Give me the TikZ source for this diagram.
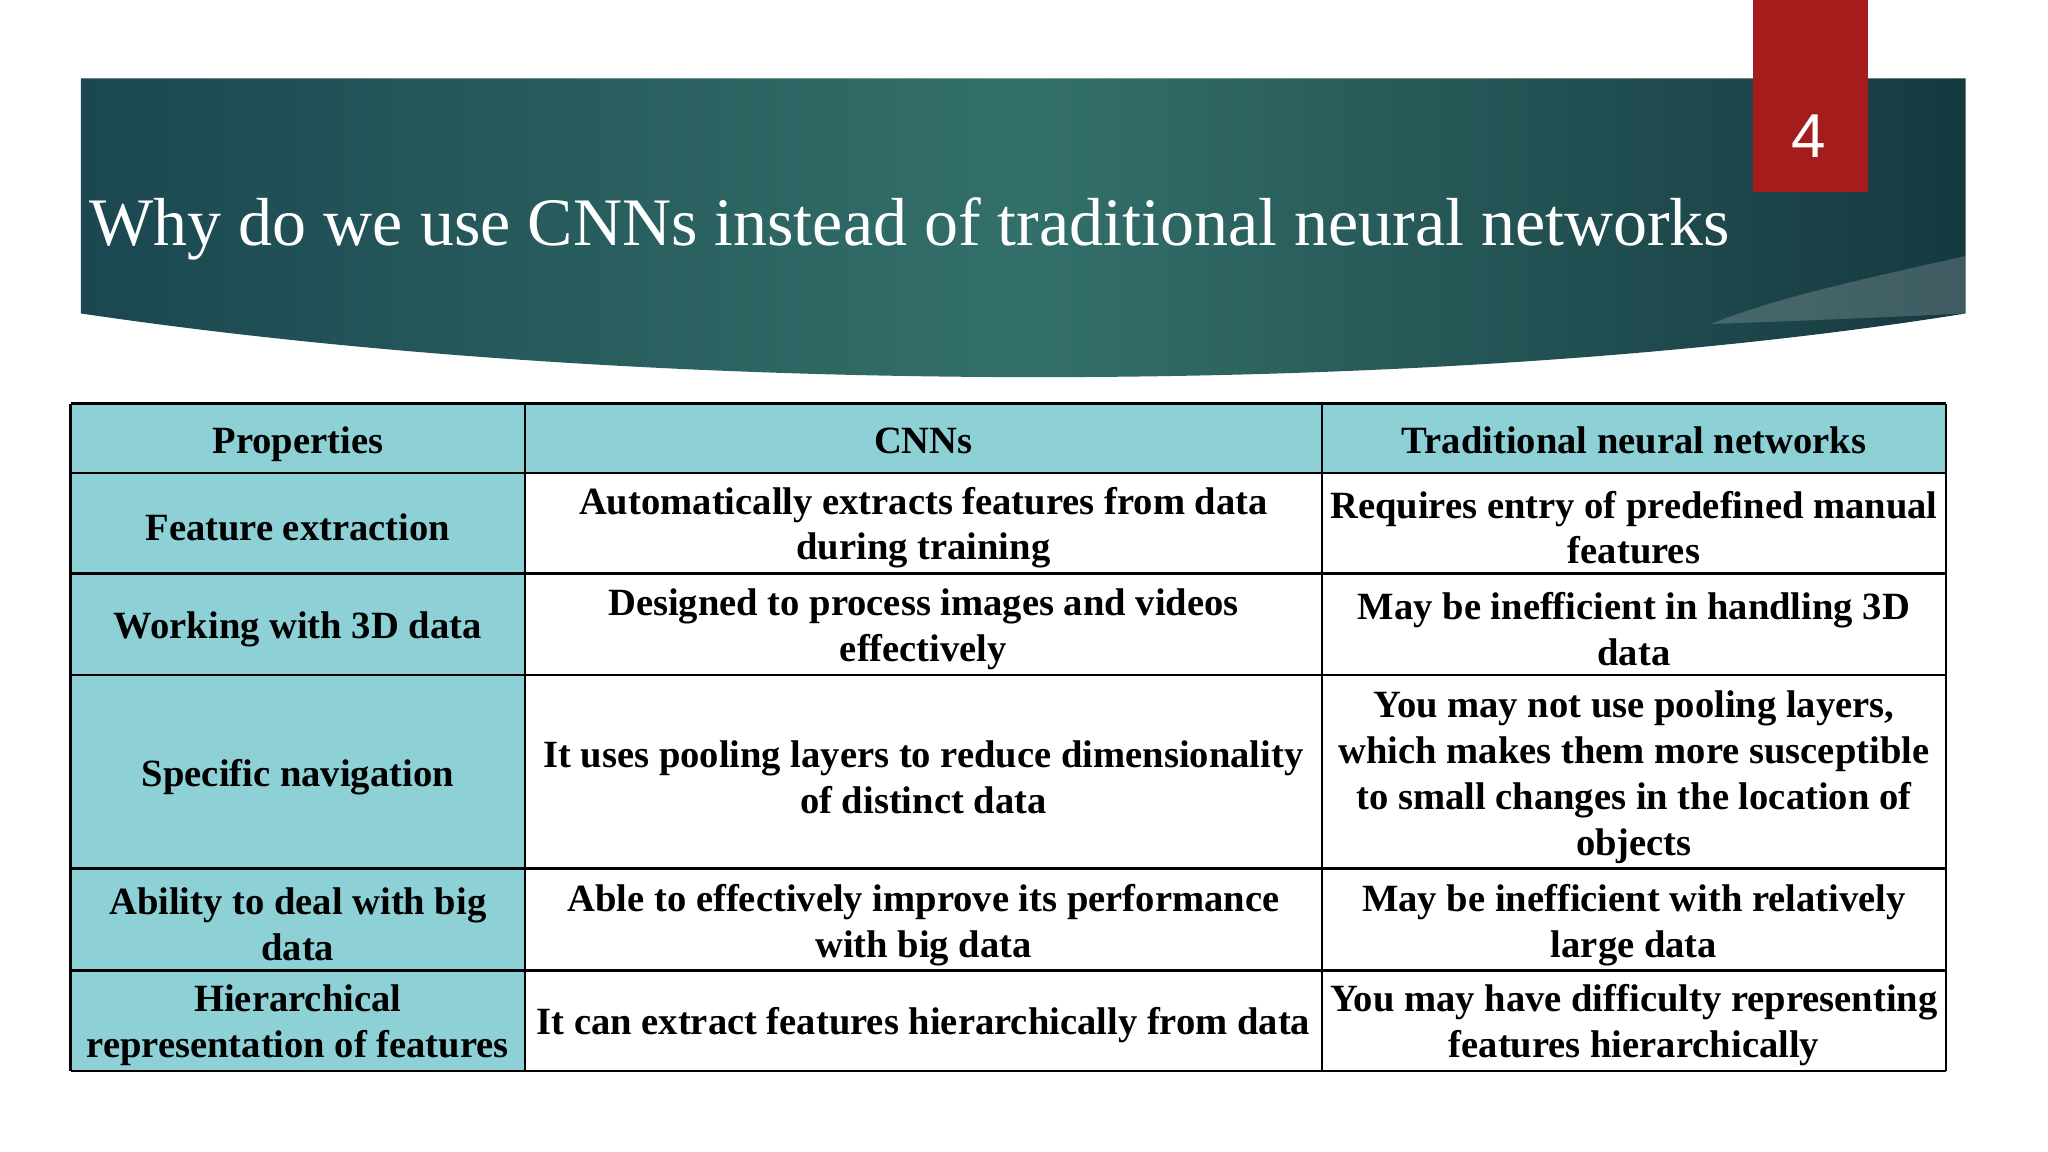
\documentclass[tikz,border=0pt]{standalone}
\usepackage{fontspec}
\setmainfont{Liberation Serif}
\newfontfamily\sansf{Liberation Sans}
\definecolor{hdr}{HTML}{8DD0D5}
\definecolor{bdark}{HTML}{1B4750}
\definecolor{bmid}{HTML}{33706A}
\definecolor{redbox}{HTML}{A51C1C}
\tikzset{
  celltext/.style={align=center,font=\bfseries\fontsize{8.4}{10}\selectfont,inner sep=0pt},
  gridline/.style={draw=black,line width=0.5pt}
}
\begin{document}
\begin{tikzpicture}[x=0.01cm,y=-0.01cm]
\useasboundingbox[fill=white] (0,0) rectangle (1568,882);
% banner
\shade[left color=bdark,right color=bdark!80!black,middle color=bmid]
 (62,60) -- (1505,60) -- (1505,240) .. controls (1100,305) and (500,305) .. (62,240) -- cycle;
\fill[white,opacity=0.18] (1505,196) .. controls (1420,215) and (1360,228) .. (1310,248) .. controls (1400,245) and (1460,242) .. (1505,240) -- cycle;
\fill[redbox] (1342,0) rectangle (1430,147);
\node[text=white,font=\sansf\fontsize{13.5}{15}\selectfont] (num) at (1385,104) {4};
\node[anchor=base west,text=white,font=\fontsize{14.8}{16}\selectfont,inner sep=0pt] (title) at (68,188) {Why do we use CNNs instead of traditional neural networks};
% table backgrounds
\fill[hdr] (54,309) rectangle (1490,362);
\fill[hdr] (54,362) rectangle (402,820);
\foreach \y in {309,362,439,517,665,743,820} \draw[gridline] (54,\y) -- (1490,\y);
\foreach \x in {54,402,1012,1490} \draw[gridline] (\x,309) -- (\x,820);
% header
\node[celltext,anchor=base] (h1) at (228,347) {Properties};
\node[celltext,anchor=base] (h2) at (707,347) {CNNs};
\node[celltext,anchor=base] (h3) at (1251,347) {Traditional neural networks};
% rows
\node[celltext] (r1a) at (228,404) {Feature extraction};
\node[celltext] (r1b) at (707,404) {Automatically extracts features from data\\during training};
\node[celltext] (r1c) at (1251,404) {Requires entry of predefined manual\\features};
\node[celltext] (r2a) at (228,482) {Working with 3D data};
\node[celltext] (r2b) at (707,482) {Designed to process images and videos\\effectively};
\node[celltext] (r2c) at (1251,482) {May be inefficient in handling 3D\\data};
\node[celltext] (r3a) at (228,595) {Specific navigation};
\node[celltext] (r3b) at (707,595) {It uses pooling layers to reduce dimensionality\\of distinct data};
\node[celltext] (r3c) at (1251,595) {You may not use pooling layers,\\which makes them more susceptible\\to small changes in the location of\\objects};
\node[celltext] (r4a) at (228,708) {Ability to deal with big\\data};
\node[celltext] (r4b) at (707,708) {Able to effectively improve its performance\\with big data};
\node[celltext] (r4c) at (1251,708) {May be inefficient with relatively\\large data};
\node[celltext] (r5a) at (228,785) {Hierarchical\\representation of features};
\node[celltext] (r5b) at (707,785) {It can extract features hierarchically from data};
\node[celltext] (r5c) at (1251,785) {You may have difficulty representing\\features hierarchically};
\end{tikzpicture}
\end{document}
